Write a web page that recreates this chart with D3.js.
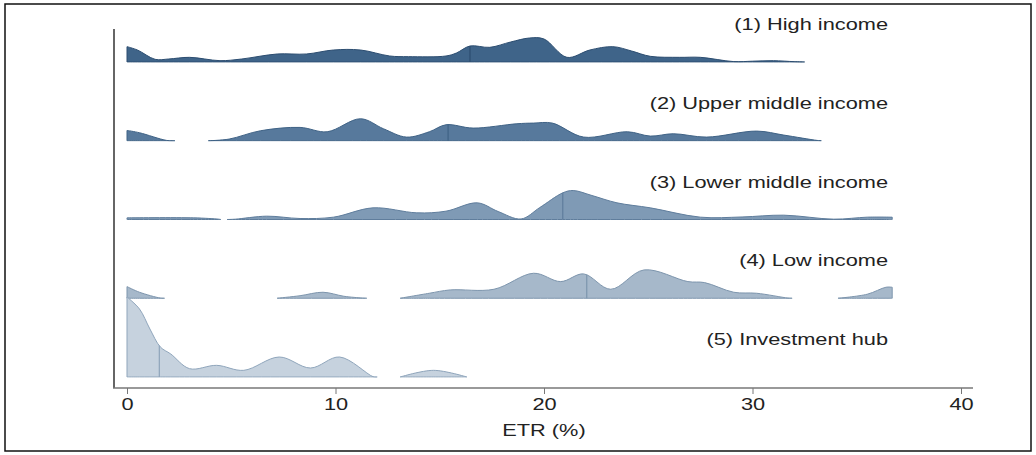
<!DOCTYPE html>
<html>
<head>
<meta charset="utf-8">
<script src="https://cdn.jsdelivr.net/npm/d3@7"></script>
<style>
  html, body { margin: 0; padding: 0; background: #fff; }
  svg { display: block; }
  text { font-family: "Liberation Sans", Arial, Helvetica, sans-serif; fill: #222; }
</style>
</head>
<body>
<svg id="chart" width="1036" height="455"></svg>
<script>
// Income groups, top to bottom
const groups = [
  "(1) High income",
  "(2) Upper middle income",
  "(3) Lower middle income",
  "(4) Low income",
  "(5) Investment hub"
];

// Kernel density of ETR per group: [ETR %, density (% per point)]; null marks no support
const densHigh = [
  [0,2.3],[0.5,1.8],[1.35,0.4],[2,0.45],[3,0.7],[4.46,0.2],[5.5,0.45],[7.2,1.2],[8.6,1.2],
  [9.9,1.8],[11.2,1.8],[12.6,0.9],[13.5,0.8],[15.3,0.9],[15.8,1.35],[16.45,2.4],[17.4,2.2],
  [18.4,3.0],[19.3,3.6],[20,3.45],[21.1,0.7],[22.2,1.8],[23.3,2.3],[24.2,1.65],[25.1,0.85],
  [26.5,0.7],[27.5,0.7],[29.1,0.06],[30,0.12],[31,0.2],[32,0.05],[32.5,0]
];
const densUpperMiddle = [
  [0,1.55],[0.6,1.2],[1.9,0.05],[2.3,0],[2.31,null],[3.89,null],[3.9,0],[4.9,0.25],[6.4,1.5],
  [8.3,2.0],[9.6,1.35],[11.2,3.3],[12.3,1.8],[13.4,0.55],[14.5,1.35],[15.3,2.4],[16.6,1.9],
  [18.7,2.55],[19.5,2.65],[20.4,2.65],[21.9,0.55],[24,1.35],[25.1,0.7],[26.2,1.05],[27.8,0.55],
  [30.2,1.45],[31.5,0.85],[33.1,0.05],[33.3,0]
];
const densLowerMiddle = [
  [0,0.25],[3.2,0.25],[4.4,0.05],[4.5,0],[4.51,null],[4.79,null],[4.8,0],[5.2,0.05],[6.7,0.5],
  [8.3,0.15],[9.9,0.35],[11.8,1.75],[13.9,1.0],[15.3,1.25],[16.8,2.5],[17.8,1.2],[18.9,0.08],
  [19.8,1.8],[20.9,4.0],[21.4,4.35],[22.3,3.6],[23.5,2.5],[25.1,1.75],[27.5,0.35],[29.5,0.38],
  [31.5,0.65],[33.9,0.05],[35.5,0.35],[36.7,0.35]
];
const densLow = [
  [0,1.75],[0.6,0.9],[1.6,0.03],[1.8,0],[1.81,null],[7.19,null],[7.2,0],[8.3,0.38],[9.4,0.9],
  [10.4,0.3],[11.3,0.03],[11.5,0],[11.51,null],[13.09,null],[13.1,0],[14.5,0.75],[15.5,1.25],
  [17.6,1.35],[19.5,3.75],[20.8,2.5],[21.9,3.65],[23.2,1.35],[24.8,4.25],[26.9,2.5],[27.7,2.35],
  [29.1,0.9],[30.2,0.75],[31.7,0.03],[31.9,0],[31.91,null],[34.09,null],[34.1,0],[35.5,0.6],
  [36.4,1.65],[36.7,1.65]
];
const densHub = [
  [0,12],[0.6,10.2],[1.1,7.2],[1.6,4.5],[2.1,3.45],[3.0,1.25],[4.3,1.75],[5.6,1.0],[7.3,3.0],
  [8.8,1.35],[10.2,3.0],[11.8,0.05],[12.0,0],[12.01,null],[13.09,null],[13.1,0],[14.7,1.0],[16.3,0]
];
const densities = [densHigh, densUpperMiddle, densLowerMiddle, densLow, densHub];

// Median ETR per group
const medians = [16.45, 15.4, 20.9, 22.05, 1.55];

// Axis ticks
const xTicks = [0, 10, 20, 30, 40];
const xLabel = "ETR (%)";

// Styling per group (dark to light)
const fills   = ["#3f6489", "#57799c", "#7f9ab5", "#a6b8ca", "#c6d2de"];
const strokes = ["#2c4d70", "#3f6285", "#5f7d9c", "#7d95ad", "#8fa5bb"];

const svg = d3.select("#chart");
const TEXT_STRETCH = 1.32;

// Outer frame
svg.append("rect")
  .attr("x", 5).attr("y", 4).attr("width", 1026).attr("height", 447)
  .attr("fill", "none").attr("stroke", "#111").attr("stroke-width", 1.5);

const x = d3.scaleLinear().domain([0, 40]).range([127, 961]);
const rowBase = d3.scalePoint().domain(groups).range([62, 377]);
const h = d3.scaleLinear().domain([0, 12]).range([0, 80]);
const curve = d3.curveCatmullRom.alpha(0.5);

// Ridges
groups.forEach((g, i) => {
  const base = rowBase(g);
  const data = densities[i];
  const area = d3.area()
    .defined(d => d[1] !== null)
    .x(d => x(d[0]))
    .y0(base)
    .y1(d => base - h(d[1]))
    .curve(curve);
  const top = d3.line()
    .defined(d => d[1] !== null)
    .x(d => x(d[0]))
    .y(d => base - h(d[1]))
    .curve(curve);

  const grp = svg.append("g");
  // keep ridge fills from spilling below their baseline
  const clipId = "clip-" + i;
  svg.append("clipPath").attr("id", clipId)
    .append("rect").attr("x", 0).attr("y", 0).attr("width", 1036).attr("height", base + 0.75);
  grp.attr("clip-path", `url(#${clipId})`);

  grp.append("path")
    .attr("d", area(data))
    .attr("fill", fills[i])
    .attr("stroke", strokes[i])
    .attr("stroke-width", 1)
    .attr("stroke-linejoin", "round");

  // median line reaching up to the density curve
  const probe = grp.append("path").attr("d", top(data)).attr("fill", "none").attr("stroke", "none");
  const node = probe.node();
  const len = node.getTotalLength();
  const mx = x(medians[i]);
  let best = null, bestDist = Infinity;
  for (let s = 0; s <= len; s += 0.5) {
    const p = node.getPointAtLength(s);
    const dd = Math.abs(p.x - mx);
    if (dd < bestDist) { bestDist = dd; best = p; }
  }
  probe.remove();
  grp.append("line")
    .attr("x1", mx).attr("x2", mx)
    .attr("y1", base).attr("y2", best ? best.y : base)
    .attr("stroke", strokes[i]).attr("stroke-width", 1.2);

  // group label
  svg.append("text")
    .attr("transform", `translate(888,${base - 32}) scale(${TEXT_STRETCH},1)`)
    .attr("text-anchor", "end")
    .attr("font-size", 16.5)
    .text(g);
});

// Y axis line
svg.append("line")
  .attr("x1", 114).attr("x2", 114).attr("y1", 29).attr("y2", 388)
  .attr("stroke", "#666").attr("stroke-width", 2);

// X axis
const xAxis = d3.axisBottom(x).tickValues(xTicks).tickSize(6).tickPadding(4).tickSizeOuter(0);
const ax = svg.append("g").attr("transform", "translate(0,388)").call(xAxis);
ax.select(".domain").remove();
ax.append("line").attr("x1", 113).attr("x2", 973).attr("y1", 0).attr("y2", 0)
  .attr("stroke", "#777").attr("stroke-width", 1.5);
ax.selectAll(".tick line").attr("stroke", "#777").attr("stroke-width", 1);
ax.selectAll(".tick text")
  .attr("font-size", 16.5)
  .attr("fill", "#222")
  .attr("dy", "0.71em")
  .attr("transform", function () {
    const y = +d3.select(this).attr("y");
    return `translate(0,${y}) scale(${TEXT_STRETCH},1)`;
  })
  .attr("y", 0);

svg.append("text")
  .attr("transform", `translate(${x(20)},436) scale(${TEXT_STRETCH},1)`)
  .attr("text-anchor", "middle")
  .attr("font-size", 16.5)
  .text(xLabel);
</script>
</body>
</html>
